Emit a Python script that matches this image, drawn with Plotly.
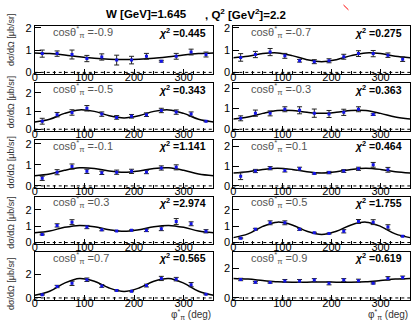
import plotly.graph_objects as go

W, H = 412, 324

phi = [15, 45, 75, 105, 135, 165, 195, 225, 255, 285, 315, 345]
phi_curve = [0, 30, 60, 90, 120, 150, 180, 210, 240, 270, 300, 330, 360]

cos_labels = ["-0.9", "-0.7", "-0.5", "-0.3", "-0.1", "0.1", "0.3", "0.5", "0.7", "0.9"]
chi2_labels = ["0.445", "0.275", "0.343", "0.363", "1.141", "0.464", "2.974", "1.755", "0.565", "0.619"]

# measured cross sections (blue points) and errors, per panel
v_m09 = [0.84, 0.84, 0.80, 0.62, 0.69, 0.55, 0.55, 0.72, 0.50, 0.72, 0.91, 0.80]
e_m09 = [0.16, 0.12, 0.20, 0.14, 0.14, 0.22, 0.17, 0.13, 0.04, 0.13, 0.13, 0.11]
v_m07 = [0.67, 0.80, 0.91, 0.74, 0.52, 0.48, 0.52, 0.70, 0.84, 0.84, 0.77, 0.59]
e_m07 = [0.17, 0.14, 0.16, 0.11, 0.06, 0.09, 0.09, 0.11, 0.13, 0.14, 0.10, 0.10]
v_m05 = [0.44, 0.80, 0.92, 1.15, 0.83, 0.65, 0.71, 0.80, 1.03, 0.94, 0.83, 0.44]
e_m05 = [0.16, 0.12, 0.15, 0.15, 0.12, 0.10, 0.10, 0.10, 0.12, 0.12, 0.12, 0.03]
v_m03 = [0.53, 0.78, 0.77, 0.97, 0.92, 0.78, 0.74, 0.82, 0.97, 0.71]
e_m03 = [0.12, 0.15, 0.12, 0.12, 0.17, 0.20, 0.17, 0.15, 0.12, 0.04]
v_m01 = [0.36, 0.65, 0.92, 0.69, 0.62, 0.65, 0.69, 0.66, 0.85, 0.88]
e_m01 = [0.10, 0.12, 0.12, 0.10, 0.08, 0.10, 0.10, 0.08, 0.10, 0.12]
v_p01 = [0.49, 0.75, 0.89, 0.78, 0.86, 0.62, 0.67, 0.75, 0.86, 1.06, 0.81]
e_p01 = [0.17, 0.08, 0.08, 0.08, 0.08, 0.03, 0.06, 0.07, 0.08, 0.12, 0.12]
v_p03 = [0.49, 1.05, 1.25, 0.95, 0.79, 0.71, 0.75, 0.75, 0.85, 1.29, 1.15, 0.69]
e_p03 = [0.03, 0.10, 0.15, 0.10, 0.07, 0.03, 0.03, 0.08, 0.12, 0.18, 0.12, 0.10]
v_p05 = [0.26, 0.81, 1.21, 1.21, 0.81, 0.60, 0.55, 0.69, 1.29, 1.25, 0.95, 0.39]
e_p05 = [0.03, 0.06, 0.12, 0.12, 0.06, 0.03, 0.03, 0.10, 0.12, 0.15, 0.14, 0.03]
v_p07 = [0.28, 0.98, 1.25, 1.56, 1.03, 0.64, 0.58, 1.06, 1.67, 1.61, 1.14, 0.31]
e_p07 = [0.04, 0.10, 0.18, 0.15, 0.12, 0.05, 0.05, 0.12, 0.18, 0.15, 0.18, 0.04]
v_p09 = [1.24, 1.05, 1.03, 1.14, 1.14, 1.20, 0.98, 1.20, 1.16, 0.98, 1.31, 1.37]
e_p09 = [0.08, 0.06, 0.04, 0.10, 0.10, 0.10, 0.10, 0.10, 0.10, 0.04, 0.12, 0.10]

# fit curves read at 30 degree steps
c_m09 = [0.87, 0.84, 0.78, 0.70, 0.63, 0.59, 0.58, 0.59, 0.63, 0.70, 0.78, 0.84, 0.87]
c_m07 = [0.66, 0.72, 0.84, 0.87, 0.75, 0.57, 0.48, 0.57, 0.75, 0.87, 0.84, 0.72, 0.66]
c_m05 = [0.40, 0.55, 0.87, 1.06, 0.98, 0.74, 0.62, 0.74, 0.98, 1.06, 0.87, 0.55, 0.40]
c_m03 = [0.50, 0.59, 0.77, 0.91, 0.91, 0.82, 0.77, 0.82, 0.91, 0.91, 0.77, 0.59, 0.50]
c_m01 = [0.48, 0.56, 0.74, 0.86, 0.83, 0.71, 0.65, 0.71, 0.83, 0.86, 0.74, 0.56, 0.48]
c_p01 = [0.65, 0.71, 0.83, 0.89, 0.83, 0.71, 0.65, 0.71, 0.83, 0.89, 0.83, 0.71, 0.65]
c_p03 = [0.60, 0.71, 0.93, 1.05, 0.97, 0.79, 0.69, 0.79, 0.97, 1.05, 0.93, 0.71, 0.60]
c_p05 = [0.30, 0.53, 0.99, 1.25, 1.08, 0.69, 0.49, 0.69, 1.08, 1.25, 0.99, 0.53, 0.30]
c_p07 = [0.23, 0.57, 1.27, 1.67, 1.43, 0.85, 0.56, 0.85, 1.43, 1.67, 1.27, 0.57, 0.23]
c_p09 = [1.31, 1.27, 1.17, 1.08, 1.05, 1.06, 1.07, 1.06, 1.05, 1.08, 1.17, 1.27, 1.31]

values = [v_m09, v_m07, v_m05, v_m03, v_m01, v_p01, v_p03, v_p05, v_p07, v_p09]
errors = [e_m09, e_m07, e_m05, e_m03, e_m01, e_p01, e_p03, e_p05, e_p07, e_p09]
curves = [c_m09, c_m07, c_m05, c_m03, c_m01, c_p01, c_p03, c_p05, c_p07, c_p09]

y_ranges = [[-0.074, 2.06], [-0.074, 2.06], [-0.09, 2.52], [-0.08, 2.23],
            [-0.08, 2.18], [-0.083, 2.31], [-0.10, 2.82], [-0.10, 2.82],
            [-0.14, 3.94], [-0.11, 3.09]]

col_x = [(32, 212), (232, 410)]
row_top = [22, 80.5, 138.8, 197, 254]
frame_h = 49

FONT = "Liberation Sans, Arial, Helvetica, sans-serif"

def fx(p):
    return p / W

def fy(p):
    return 1 - p / H

fig = go.Figure()
layout = dict(
    width=W, height=H, margin=dict(l=0, r=0, t=0, b=0),
    paper_bgcolor="white", plot_bgcolor="white", showlegend=False,
    font=dict(family=FONT, size=11, color="black"),
)
annotations = []

for i in range(10):
    r, c = i // 2, i % 2
    n = i + 1
    xa = "x" if n == 1 else f"x{n}"
    ya = "y" if n == 1 else f"y{n}"
    x0, x1 = col_x[c]
    top = row_top[r]
    bot = top + frame_h
    layout["xaxis" if n == 1 else f"xaxis{n}"] = dict(
        domain=[fx(x0), fx(x1)], anchor=ya, range=[0, 360],
        tickvals=[0, 100, 200, 300], ticks="inside", ticklen=5, tickcolor="black",
        showline=True, linecolor="black", linewidth=1, mirror=True,
        showgrid=False, zeroline=False, ticklabelstandoff=-7,
        minor=dict(dtick=20, ticks="inside", ticklen=3, tickcolor="black"),
        tickfont=dict(size=11, family=FONT),
    )
    layout["yaxis" if n == 1 else f"yaxis{n}"] = dict(
        domain=[fy(bot), fy(top)], anchor=xa, range=y_ranges[i],
        dtick=2 if r == 4 else 1, tick0=0, ticks="inside", ticklen=6, tickcolor="black",
        showline=True, linecolor="black", linewidth=1, mirror=True,
        showgrid=False, zeroline=False,
        tickfont=dict(size=11, family=FONT),
    )
    fig.add_trace(go.Scatter(x=[0, 360], y=[0, 0], mode="lines", xaxis=xa, yaxis=ya,
                             line=dict(color="black", width=1, dash="dot"), hoverinfo="skip"))
    fig.add_trace(go.Scatter(x=phi_curve, y=curves[i], mode="lines", xaxis=xa, yaxis=ya,
                             line=dict(color="black", width=1.5, shape="spline", smoothing=1.0)))
    m = len(values[i])
    fig.add_trace(go.Scatter(x=phi[:m], y=values[i], mode="markers", xaxis=xa, yaxis=ya,
                             marker=dict(symbol="square", size=3, color="#1414e6"),
                             error_y=dict(type="data", array=errors[i], color="#222222",
                                          thickness=1, width=2.5)))
    annotations.append(dict(
        x=fx(x0 + 16), y=fy(top + 6), xref="paper", yref="paper",
        xanchor="left", yanchor="middle", showarrow=False,
        text=f"cosθ<sup>*</sup><sub>π</sub> ={cos_labels[i]}",
        font=dict(size=11, color="#555555", family=FONT)))
    annotations.append(dict(
        x=fx(x1 - 6), y=fy(top + 6), xref="paper", yref="paper",
        xanchor="right", yanchor="middle", showarrow=False,
        text=f"<b><i>χ</i><sup>2</sup> =" + chi2_labels[i] + "</b>",
        font=dict(size=10.5, color="black", family=FONT)))

# y titles per row
for r, yc in enumerate([36, 100, 162, 224, 287]):
    annotations.append(dict(
        x=fx(8), y=fy(yc), xref="paper", yref="paper", textangle=-90,
        xanchor="center", yanchor="middle", showarrow=False,
        text="dσ/dΩ [μb/sr]", font=dict(size=9, color="#333333", family=FONT)))

# x titles
for c in range(2):
    annotations.append(dict(
        x=fx(col_x[c][1]), y=fy(318), xref="paper", yref="paper",
        xanchor="right", yanchor="middle", showarrow=False,
        text="φ<sup>*</sup><sub>π</sub> (deg)", font=dict(size=10, color="#333333", family=FONT)))

# title
annotations.append(dict(x=fx(145), y=fy(9), xref="paper", yref="paper",
                        xanchor="center", yanchor="middle", showarrow=False,
                        text="<b>W [GeV]=1.645</b>", font=dict(size=11.5, family=FONT)))
annotations.append(dict(x=fx(201), y=fy(9), xref="paper", yref="paper",
                        xanchor="left", yanchor="middle", showarrow=False,
                        text="<b>, Q<sup>2</sup> [GeV<sup>2</sup>]=2.2</b>", font=dict(size=11.5, family=FONT)))

layout["annotations"] = annotations
layout["shapes"] = [dict(type="line", xref="paper", yref="paper",
                         x0=fx(343), y0=fy(0), x1=fx(348), y1=fy(5),
                         line=dict(color="red", width=1))]
fig.update_layout(**layout)
fig.write_html("out.html")
